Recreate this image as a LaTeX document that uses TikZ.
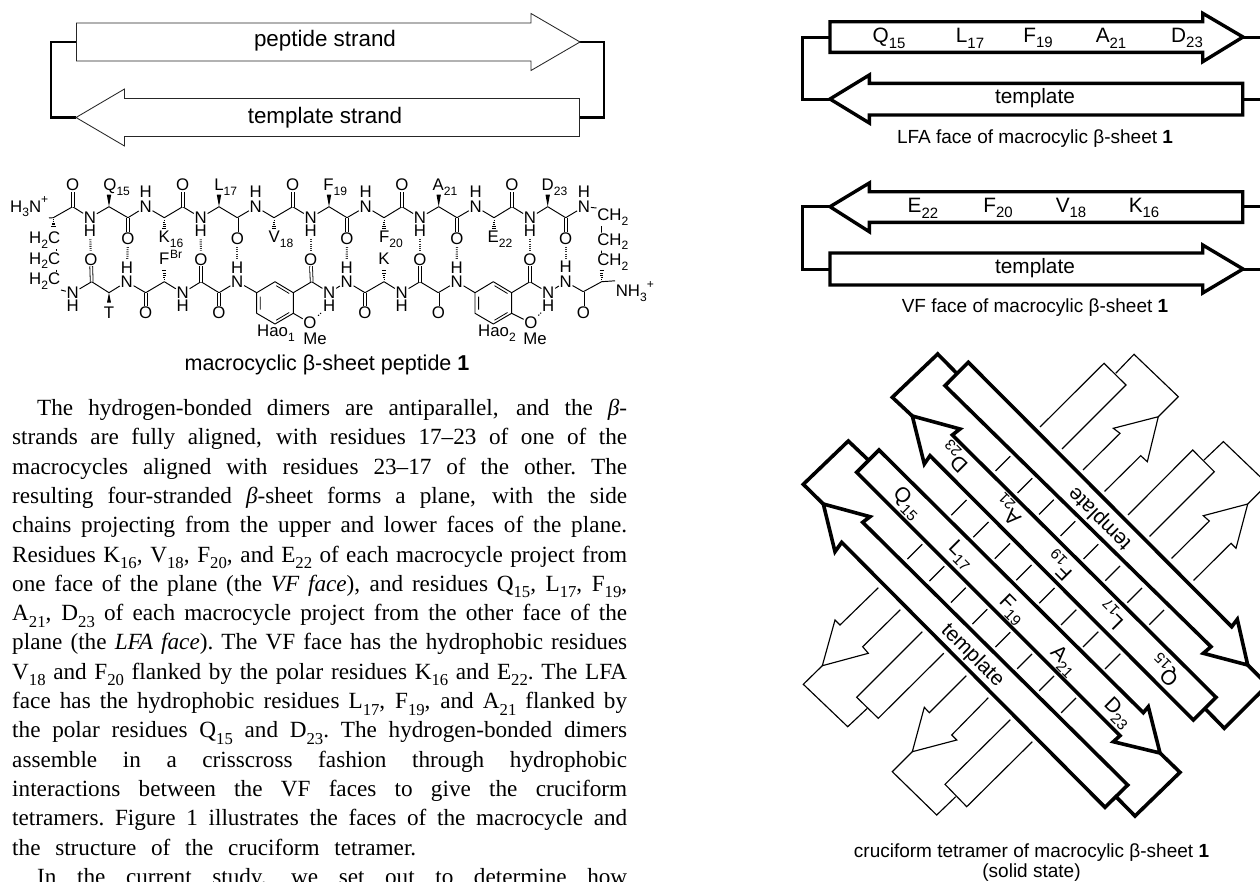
\documentclass[tikz,border=0pt]{standalone}
\usepackage{fontspec}
\setmainfont{Liberation Serif}
\newfontfamily\hv{Liberation Sans}
\newcommand{\sbs}[1]{\raisebox{-.28em}{\scalebox{.72}{#1}}}
\newcommand{\sps}[1]{\raisebox{.5em}{\scalebox{.72}{#1}}}
\newcommand{\JL}[2][615pt]{\hbox to #1{\spaceskip=.25em plus 1fil minus .12em\xspaceskip=\spaceskip #2}}
\newcommand{\wedgeU}[2]{\fill ({#1},{#2}) -- ({#1-2.2},{#2-12}) -- ({#1+2.2},{#2-12}) -- cycle;}
\newcommand{\wedgeD}[2]{\fill ({#1},{#2}) -- ({#1-2},{#2+10}) -- ({#1+2},{#2+10}) -- cycle;}
\newcommand{\hashV}[3]{\foreach \i in {1,...,5} {\draw[line width=.7pt] ({#1-.42*\i},{#2+#3*2.2*\i}) -- ({#1+.42*\i},{#2+#3*2.2*\i});}}
\tikzset{
  atom/.style={font=\hv\fontsize{16.8}{17}\selectfont,inner sep=.6pt},
  bnd/.style={line width=.95pt,line join=round},
  dbl/.style={double,double distance=2pt,line width=.8pt},
  hb/.style={line width=2.2pt,dash pattern=on .9pt off 1.3pt,black!80,shorten >=2pt,shorten <=2pt},
  hlab/.style={font=\hv\fontsize{20.8}{21}\selectfont,inner sep=0pt},
  capt/.style={font=\hv\fontsize{19}{20}\selectfont,inner sep=0pt},
  thinarrow/.style={draw=black!85,line width=.85pt,fill=white,line join=miter},
  thickbr/.style={draw=black,line width=2.4pt,line join=miter},
  sarrow/.style={draw=black,line width=3.4pt,fill=white,line join=miter,miter limit=10},
  sbr/.style={draw=black,line width=3pt,line join=miter},
  thk/.style={draw=black,line width=3.6pt,fill=white,line join=miter,miter limit=10},
  thkbr/.style={draw=black,line width=3.6pt,line join=miter},
  thn/.style={draw=black,line width=1.15pt,line join=miter},
}
\begin{document}
\begin{tikzpicture}[x=1pt,y=-1pt]
\useasboundingbox (0,0) rectangle (1260,881);
\fill[white] (0,0) rectangle (1260,881);
% ---- top-left schematic
\draw[thickbr] (77,42) -- (51,42) -- (51,117.5) -- (76,117.5);
\draw[thickbr] (579,42) -- (604,42) -- (604,117.5) -- (579,117.5);
\draw[thinarrow] (76.5,23) -- (531,23) -- (531,13.5) -- (580,42) -- (531,70.5) -- (531,61) -- (76.5,61) -- cycle;
\draw[thinarrow] (579.5,98.5) -- (124.5,98.5) -- (124.5,89) -- (76,117.5) -- (124.5,146) -- (124.5,136.5) -- (579.5,136.5) -- cycle;
\node[hlab,font=\hv\fontsize{22.4}{23}\selectfont] (tpep) at (325,41) {peptide strand};
\node[hlab,font=\hv\fontsize{22.4}{23}\selectfont] (ttem) at (325,117.5) {template strand};
% ---- structure: top chain
\node[atom,anchor=east] (h3n) at (49,207) {H\sbs{3}N\sps{+}};
\foreach \n/\x/\y in {ca0/53.3/217.7,c1/72.7/206.7,ca1/109/206.7,c2/128/217.7,ca2/164.3/217.7,c3/182.7/206.7,ca3/219/206.7,c4/237.3/217.7,ca4/274/217.7,c5/292.7/206.7,ca5/329/206.7,c6/347/217.7,ca6/384/217.7,c7/402/206.7,ca7/438.7/206.7,c8/457/217.7,ca8/494/217.7,c9/512/206.7,ca9/547.7/206.7,c10/565.7/217.7}{\coordinate (\n) at (\x,\y);}
\foreach \n/\x/\y/\t in {
 n1/90/217.7/N,hn1/90/230.7/H,n2/145.7/206.7/N,hn2/145.7/191.7/H,n3/200.7/217.7/N,hn3/200.7/230.7/H,
 n4/255.7/206.7/N,hn4/255.7/191.7/H,n5/310.7/217.7/N,hn5/310.7/230.7/H,n6/365.7/206.7/N,hn6/365.7/191.7/H,
 n7/420/217.7/N,hn7/420/230.7/H,n8/475.7/206.7/N,hn8/475.7/191.7/H,n9/530/217.7/N,hn9/530/230.7/H,
 n10/584/206.7/N,hn10/584/191.7/H,
 o1/72.7/185/O,o2/128/238.3/O,o3/182.7/185/O,o4/237.3/238.3/O,o5/292.7/185/O,o6/347/238.3/O,o7/402/185/O,o8/457/238.3/O,o9/512/185/O,o10/565.7/238.3/O,
 tk/384/259/K,tfb/164.3/259/F,tt/109/312.5/T}{\node[atom] (\n) at (\x,\y) {\t};}
\node[atom] (lq15) at (116.7,187.5) {Q\sbs{15}};
\node[atom] (ll17) at (225.8,187.5) {L\sbs{17}};
\node[atom] (lf19) at (335.3,187.5) {F\sbs{19}};
\node[atom] (la21) at (445,187.5) {A\sbs{21}};
\node[atom] (ld23) at (554.5,187.5) {D\sbs{23}};
\node[atom] (lk16) at (171,239.3) {K\sbs{16}};
\node[atom] (lv18) at (281,239.3) {V\sbs{18}};
\node[atom] (lf20) at (391,239.3) {F\sbs{20}};
\node[atom] (le22) at (500,239.3) {E\sbs{22}};
\node[atom,font=\hv\fontsize{12}{13}\selectfont] (br) at (176,254.5) {Br};
\draw[bnd] (h3n.south east) -- (ca0) -- (c1) -- (n1) -- (ca1) -- (c2) -- (n2) -- (ca2) -- (c3) -- (n3) -- (ca3) -- (c4) -- (n4) -- (ca4) -- (c5) -- (n5) -- (ca5) -- (c6) -- (n6) -- (ca6) -- (c7) -- (n7) -- (ca7) -- (c8) -- (n8) -- (ca8) -- (c9) -- (n9) -- (ca9) -- (c10) -- (n10);
\foreach \a/\b in {c1/o1,c2/o2,c3/o3,c4/o4,c5/o5,c6/o6,c7/o7,c8/o8,c9/o9,c10/o10}{\draw[dbl] (\a) -- (\b);}
\wedgeU{109}{206.7}\wedgeU{219}{206.7}\wedgeU{329}{206.7}\wedgeU{438.7}{206.7}\wedgeU{547.7}{206.7}
\hashV{164.3}{217.7}{1}\hashV{274}{217.7}{1}\hashV{384}{217.7}{1}\hashV{494}{217.7}{1}\hashV{53.5}{217.7}{.8}
% left and right linkers
\node[atom,anchor=east] (hc1) at (61,240) {H\sbs{2}C};
\node[atom,anchor=east] (hc2) at (61,260.5) {H\sbs{2}C};
\node[atom,anchor=east] (hc3) at (61,281) {H\sbs{2}C};
\coordinate (hc1b) at ([xshift=-5pt]hc1.south east);
\coordinate (hc2t) at ([xshift=-5pt]hc2.north east);
\coordinate (hc2b) at ([xshift=-5pt]hc2.south east);
\coordinate (hc3t) at ([xshift=-5pt]hc3.north east);
\draw[bnd] (hc1b) -- (hc2t) (hc2b) -- (hc3t);
\node[atom,anchor=west] (rc1) at (596.5,217) {CH\sbs{2}};
\node[atom,anchor=west] (rc2) at (596.5,241.7) {CH\sbs{2}};
\node[atom,anchor=west] (rc3) at (596.5,262.3) {CH\sbs{2}};
\coordinate (rc1b) at ([xshift=5pt]rc1.south west);
\coordinate (rc2t) at ([xshift=5pt]rc2.north west);
\coordinate (rc2b) at ([xshift=5pt]rc2.south west);
\coordinate (rc3t) at ([xshift=5pt]rc3.north west);
\draw[bnd] (n10) -- (rc1.north west) (rc1b) -- (rc2t) (rc2b) -- (rc3t);
% bottom chain
\foreach \n/\x/\y in {d1/91.7/281.7,e1/109/292.7,d2/145.7/292.7,e2/164.3/281.7,d3/201/281.7,d4/219/292.7,d5/311.7/281.7,d6/365/292.7,e3/384/281.7,d7/420/281.7,d8/438.3/292.7,d9/530/281.7,d10/583.3/291.7,e4/601.7/281.7}{\coordinate (\n) at (\x,\y);}
\foreach \n/\x/\y/\t in {
 m1/72.7/293/N,hm1/72.7/306/H,m2/126.7/281.7/N,hm2/127/268/H,m3/182.7/293/N,hm3/182.7/306/H,m4/237.3/281.7/N,hm4/237.3/268/H,
 m5/329.3/292.7/N,hm5/329.3/305.5/H,m6/346.7/281.7/N,hm6/346.7/268/H,m7/401.7/292.7/N,hm7/401.7/305.5/H,m8/456.7/281.7/N,hm8/456.7/268/H,
 m9/548.3/292.7/N,hm9/548.3/305.5/H,m10/565.7/281.7/N,hm10/565.7/267/H,
 p1/91/259.5/O,p2/145.7/312.7/O,p3/201/259.5/O,p4/219/312.7/O,p5/310.7/259.5/O,p6/365/312.7/O,p7/420/259.5/O,p8/438.3/312.7/O,p9/530/259.5/O,p10/583.3/312.5/O,
 om1/310/323/O,om2/531/323/O}{\node[atom] (\n) at (\x,\y) {\t};}
\node[atom] (me1) at (315,338.5) {Me};
\node[atom] (me2) at (535,338.5) {Me};
\node[atom] (hao1) at (276,333) {Hao\sbs{1}};
\node[atom] (hao2) at (497,333) {Hao\sbs{2}};
\node[atom,anchor=west] (nh3) at (615,291.7) {NH\sbs{3}\sps{+}};
% rings
\foreach \r/\x in {a/256.7,b/475}{
 \coordinate (r\r1) at (\x,292.7);
 \coordinate (r\r2) at (\x+18.3,281.7);
 \coordinate (r\r3) at (\x+36.6,292.7);
 \coordinate (r\r4) at (\x+36.6,313.3);
 \coordinate (r\r5) at (\x+18.3,324);
 \coordinate (r\r6) at (\x,313.3);
 \draw[bnd] (r\r1) -- (r\r2) -- (r\r3) -- (r\r4) -- (r\r5) -- (r\r6) -- cycle;
 \draw[line width=.8pt] (\x+3.6,296.5) -- (\x+3.6,309.5) (\x+19.5,285.7) -- (\x+32.5,293.5) (\x+32.5,312.5) -- (\x+19.5,320.2);
}
\draw[bnd] (hc3.south east) -- (m1) -- (d1) -- (e1) -- (m2) -- (d2) -- (e2) -- (m3) -- (d3) -- (d4) -- (m4) -- (ra1);
\draw[bnd] (ra3) -- (d5) -- (m5) -- (m6) -- (d6) -- (e3) -- (m7) -- (d7) -- (d8) -- (m8) -- (rb1);
\draw[bnd] (rb3) -- (d9) -- (m9) -- (m10) -- (d10) -- (e4) -- (nh3.north west);
\draw[bnd] (ra4) -- (om1) (rb4) -- (om2);
\foreach \a/\b in {d1/p1,d2/p2,d3/p3,d4/p4,d5/p5,d6/p6,d7/p7,d8/p8,d9/p9,d10/p10}{\draw[dbl] (\a) -- (\b);}
\wedgeD{109}{292.7}
\hashV{164.3}{281.7}{-1}\hashV{384}{281.7}{-1}\hashV{601.7}{281.7}{-1}
\draw[line width=1pt,dash pattern=on 1.2pt off 1.6pt,shorten <=1pt,shorten >=1pt] (om1) -- (hm5);
\draw[line width=1pt,dash pattern=on 1.2pt off 1.6pt,shorten <=1pt,shorten >=1pt] (om2) -- (hm9);
% hydrogen bonds
\foreach \a/\b in {hn1/p1,o2/hm2,hn3/p3,o4/hm4,hn5/p5,o6/hm6,hn7/p7,o8/hm8,hn9/p9,o10/hm10}{\draw[hb] (\a) -- (\b);}
\node[font=\hv\fontsize{21.5}{22}\selectfont,inner sep=0pt] (capm) at (327,365) {macrocyclic β-sheet peptide \textbf{1}};
% ---- body text
\node[anchor=north west,inner sep=0pt,text width=615pt,font=\fontsize{23.2}{29.3}\selectfont] (body) at (12,399) {%
\setlength{\parindent}{0pt}\setlength{\lineskiplimit}{-100pt}%
\JL{\hspace{25pt}The hydrogen-bonded dimers are antiparallel, and the {\itshape β}-}
\JL{strands are fully aligned, with residues 17–23 of one of the}
\JL{macrocycles aligned with residues 23–17 of the other. The}
\JL{resulting four-stranded {\itshape β}-sheet forms a plane, with the side}
\JL{chains projecting from the upper and lower faces of the plane.}
\JL{Residues K\sbs{16}, V\sbs{18}, F\sbs{20}, and E\sbs{22} of each macrocycle project from}
\JL{one face of the plane (the {\itshape VF face}), and residues Q\sbs{15}, L\sbs{17}, F\sbs{19},}
\JL{A\sbs{21}, D\sbs{23} of each macrocycle project from the other face of the}
\JL{plane (the {\itshape LFA face}). The VF face has the hydrophobic residues}
\JL{V\sbs{18} and F\sbs{20} flanked by the polar residues K\sbs{16} and E\sbs{22}. The LFA}
\JL{face has the hydrophobic residues L\sbs{17}, F\sbs{19}, and A\sbs{21} flanked by}
\JL{the polar residues Q\sbs{15} and D\sbs{23}. The hydrogen-bonded dimers}
\JL{assemble in a crisscross fashion through hydrophobic}
\JL{interactions between the VF faces to give the cruciform}
\JL{tetramers. Figure 1 illustrates the faces of the macrocycle and}
\JL[404pt]{the structure of the cruciform tetramer.}
\JL{\hspace{25pt}In the current study, we set out to determine how}
};
% ---- LFA face
\draw[sbr] (832,37) -- (802.7,37) -- (802.7,99) -- (832,99);
\draw[sbr] (1243,37) -- (1262,37);
\draw[sbr] (1243,99) -- (1262,99);
\draw[sarrow] (830,21.7) -- (1202.7,21.7) -- (1202.7,13.3) -- (1243,37) -- (1202.7,61.7) -- (1202.7,52.3) -- (830,52.3) -- cycle;
\draw[sarrow] (1242.7,83.3) -- (869.3,83.3) -- (869.3,75) -- (830,99) -- (869.3,123) -- (869.3,115) -- (1242.7,115) -- cycle;
\node[hlab] (a15) at (889,38) {Q\sbs{15}};
\node[hlab] (a17) at (970,38) {L\sbs{17}};
\node[hlab] (a19) at (1038,38) {F\sbs{19}};
\node[hlab] (a21) at (1111,38) {A\sbs{21}};
\node[hlab] (a23) at (1187,38) {D\sbs{23}};
\node[hlab] (tpa) at (1035,98) {template};
\node[capt] (capa) at (1035,138.5) {LFA face of macrocylic β-sheet \textbf{1}};
% ---- VF face
\draw[sbr] (832,206.7) -- (802.7,206.7) -- (802.7,269) -- (832,269);
\draw[sbr] (1243,206.7) -- (1262,206.7);
\draw[sbr] (1243,269) -- (1262,269);
\draw[sarrow] (1242.7,191.7) -- (869.3,191.7) -- (869.3,183) -- (830,206.7) -- (869.3,231.7) -- (869.3,222.3) -- (1242.7,222.3) -- cycle;
\draw[sarrow] (830,253) -- (1202.7,253) -- (1202.7,245) -- (1243,269) -- (1202.7,293) -- (1202.7,285) -- (830,285) -- cycle;
\node[hlab] (b22) at (923,208) {E\sbs{22}};
\node[hlab] (b20) at (998,208) {F\sbs{20}};
\node[hlab] (b18) at (1071,208) {V\sbs{18}};
\node[hlab] (b16) at (1144,208) {K\sbs{16}};
\node[hlab] (tpb) at (1035,268) {template};
\node[capt] (capb) at (1035,307.5) {VF face of macrocylic β-sheet \textbf{1}};
% ---- cruciform tetramer: thin strands behind
\draw[thn] (1040,427) -- (1104,363.3) -- (1126,385) -- (1062,449);
\draw[thn] (1115.7,373.3) -- (1134,354.3) -- (1178.3,396.7) -- (1158.3,416.7);
\draw[thn] (1083,470) -- (1120,433.3) -- (1113.3,428.3) -- (1158.3,416.7) -- (1147.3,461.7) -- (1140.7,455.7) -- (1104.5,491.5);
\draw[thn] (1128,515) -- (1192.7,450) -- (1214.3,471.7) -- (1149.5,536.5);
\draw[thn] (1204,460) -- (1223.4,441.6) -- (1267.7,484) -- (1247.7,504);
\draw[thn] (1171.5,558.5) -- (1209.3,521) -- (1203.3,515.7) -- (1247.7,504) -- (1236,548.3) -- (1231,543.3) -- (1193.5,580.5);
\draw[thn] (878.3,587.7) -- (840,625) -- (835,620) -- (822.3,665.7) -- (868.3,653.3) -- (862.7,646.7) -- (900.3,609.7);
\draw[thn] (822.3,665.7) -- (803.3,684.3) -- (847.7,726.7) -- (867.3,708.3);
\draw[thn] (922.3,631.7) -- (856.7,697.3) -- (878.3,718.3) -- (943.8,653.2);
\draw[thn] (966.3,675.7) -- (929.3,712.7) -- (924.3,707.3) -- (912.3,751.7) -- (956.7,740) -- (951.7,735) -- (988.3,697.7);
\draw[thn] (912.3,751.7) -- (892.3,771.7) -- (936.7,815) -- (955.7,796.7);
\draw[thn] (1010.3,719.7) -- (945,784.3) -- (966.7,806.7) -- (1032.3,741.7);
% ticks seen in the gaps
\foreach \s in {1466.5,1510.5,1553.5,1596.5,1642.5,1686,1730,1774}{
 \foreach \ca/\cb in {348.3/378,436/466.7,524.7/554}{
  \draw[thn] ({(\s+\ca)/2},{(\s-\ca)/2}) -- ({(\s+\cb)/2},{(\s-\cb)/2});
 }
}
% thick strands
\draw[thkbr] (823.3,504) -- (803.3,484.3) -- (848.3,441) -- (868.3,460);
\draw[thkbr] (1160,753) -- (1180,772.3) -- (1135,816) -- (1116,796.7);
\draw[thkbr] (912.3,416) -- (892.3,397.3) -- (937.7,354) -- (956.7,373.3);
\draw[thkbr] (1247.7,665) -- (1267.7,685) -- (1224.3,728.3) -- (1205.7,709.3);
\draw[thk] (862.7,522.3) -- (870,516.7) -- (823.3,504) -- (835,551.7) -- (841.7,542.3) -- (1105,807.3) -- (1127.7,785) -- cycle;
\draw[thk] (879,450) -- (1143.3,712.7) -- (1148.3,706.7) -- (1160,753) -- (1113.3,741.7) -- (1120,735.7) -- (856.7,472.3) -- cycle;
\draw[thk] (952.3,435) -- (960,429) -- (912.3,416) -- (924.3,464) -- (930,455.7) -- (1193.3,720) -- (1216,697.3) -- cycle;
\draw[thk] (968.3,362.3) -- (1231.7,626.7) -- (1237.3,619.3) -- (1247.7,665) -- (1203.3,653.3) -- (1211,646.7) -- (945,385.7) -- cycle;
% labels on the strands
\node[hlab,rotate=-45] (c15) at (906.7,503.3) {Q\sbs{15}};
\node[hlab,rotate=-45] (c17) at (960.7,555) {L\sbs{17}};
\node[hlab,rotate=-45] (c19) at (1011.7,610) {F\sbs{19}};
\node[hlab,rotate=-45] (c21) at (1063.3,661.7) {A\sbs{21}};
\node[hlab,rotate=-45] (c23) at (1117.3,713.3) {D\sbs{23}};
\node[hlab,rotate=-45] (ct1) at (972.3,655.7) {template};
\node[hlab,rotate=135] (e23) at (955,456.7) {D\sbs{23}};
\node[hlab,rotate=135] (e21) at (1008.3,510) {A\sbs{21}};
\node[hlab,rotate=135] (e19) at (1060,565) {F\sbs{19}};
\node[hlab,rotate=135] (e17) at (1111.7,615) {L\sbs{17}};
\node[hlab,rotate=135] (e15) at (1165,670) {Q\sbs{15}};
\node[hlab,rotate=135] (ct2) at (1100,518.3) {template};
\node[capt] (capc1) at (1031.5,853) {cruciform tetramer of macrocylic β-sheet \textbf{1}};
\node[capt] (capc2) at (1031.5,872.5) {(solid state)};
\end{tikzpicture}
\end{document}
